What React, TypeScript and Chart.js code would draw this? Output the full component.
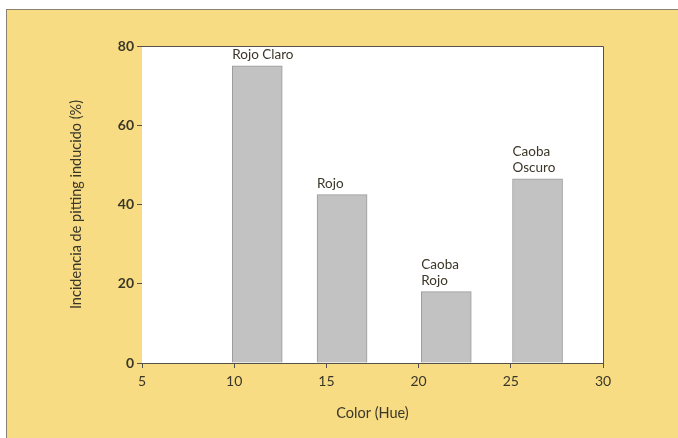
import React, { useEffect, useRef } from "react";
import { Chart, registerables } from "chart.js";

Chart.register(...registerables);

const hueCenters = [11.25, 15.85, 21.5, 26.45];
const incidence = [75, 42.5, 18, 46.5];
const barLabels = [["Rojo Claro"], ["Rojo"], ["Caoba", "Rojo"], ["Caoba", "Oscuro"]];
const xTitle = "Color (Hue)";
const yTitle = "Incidencia de pitting inducido (%)";

const FONT = "Lato, 'Open Sans', sans-serif";
const TEXT = "#3a3628";

const labelPlugin = {
  id: "barLabels",
  afterDatasetsDraw(chart: any) {
    const ctx = chart.ctx;
    const meta = chart.getDatasetMeta(0);
    ctx.save();
    ctx.font = `13.5px ${FONT}`;
    ctx.fillStyle = TEXT;
    ctx.textAlign = "left";
    ctx.textBaseline = "alphabetic";
    meta.data.forEach((bar: any, i: number) => {
      const lines = barLabels[i];
      const left = bar.x - bar.width / 2;
      const lh = 16;
      lines.forEach((ln: string, j: number) => {
        const y = bar.y - 7 - (lines.length - 1 - j) * lh;
        ctx.fillText(ln, left, y);
      });
    });
    ctx.restore();
  },
};

const framePlugin = {
  id: "frame",
  beforeDatasetsDraw(chart: any) {
    const { ctx, chartArea } = chart;
    ctx.save();
    ctx.fillStyle = "#ffffff";
    ctx.fillRect(chartArea.left, chartArea.top, chartArea.right - chartArea.left, chartArea.bottom - chartArea.top);
    ctx.restore();
  },
  afterDraw(chart: any) {
    const { ctx, chartArea } = chart;
    ctx.save();
    ctx.strokeStyle = "#55514a";
    ctx.lineWidth = 1;
    ctx.beginPath();
    ctx.moveTo(chartArea.left, chartArea.top + 0.5);
    ctx.lineTo(chartArea.right + 0.5, chartArea.top + 0.5);
    ctx.lineTo(chartArea.right + 0.5, chartArea.bottom);
    ctx.stroke();
    ctx.restore();
  },
};

export default function App() {
  const ref = useRef<HTMLCanvasElement>(null);
  useEffect(() => {
    document.body.style.margin = "0";
    const chart = new Chart(ref.current!, {
      type: "bar",
      data: {
        datasets: [
          {
            data: hueCenters.map((x, i) => ({ x, y: incidence[i] })),
            backgroundColor: "#c2c2c2",
            borderColor: "#9a9a9a",
            borderWidth: 1,
            barThickness: 50,
          },
        ],
      },
      options: {
        animation: false,
        responsive: false,
        maintainAspectRatio: false,
        layout: { padding: { left: 0, top: 36, right: 75, bottom: 0 } },
        plugins: { legend: { display: false }, tooltip: { enabled: false } },
        scales: {
          x: {
            type: "linear",
            min: 5,
            max: 30,
            offset: false,
            afterFit: (s: any) => { s.height = 75; },
            ticks: { stepSize: 5, color: TEXT, font: { family: FONT, size: 14 }, padding: 5 },
            grid: { display: true, drawOnChartArea: false, tickLength: 5, color: "#55514a", offset: false },
            border: { display: true, color: "#55514a", width: 1 },
            title: { display: true, text: xTitle, color: TEXT, font: { family: FONT, size: 14.5 }, padding: { top: 0, bottom: 16 } },
          },
          y: {
            min: 0,
            max: 80,
            afterFit: (s: any) => { s.width = 135; },
            ticks: { stepSize: 20, color: TEXT, font: { family: FONT, size: 14, weight: "bold" }, padding: 3 },
            grid: { display: true, drawOnChartArea: false, tickLength: 5, color: "#55514a" },
            border: { display: true, color: "#55514a", width: 1 },
            title: { display: true, text: yTitle, color: TEXT, font: { family: FONT, size: 14.5 }, padding: { top: 61, bottom: 0 } },
          },
        },
      },
      plugins: [framePlugin, labelPlugin],
    });
    return () => chart.destroy();
  }, []);

  return (
    <div style={{ position: "relative", width: 678, height: 438, background: "#ffffff", overflow: "hidden" }}>
      <div
        style={{
          position: "absolute",
          left: 6,
          top: 9,
          width: 672,
          height: 429,
          background: "#f7dc84",
          borderTop: "1px solid #8a8270",
          borderLeft: "1px solid #8a8270",
        }}
      >
        <canvas ref={ref} width={671} height={428} style={{ display: "block" }} />
      </div>
    </div>
  );
}
